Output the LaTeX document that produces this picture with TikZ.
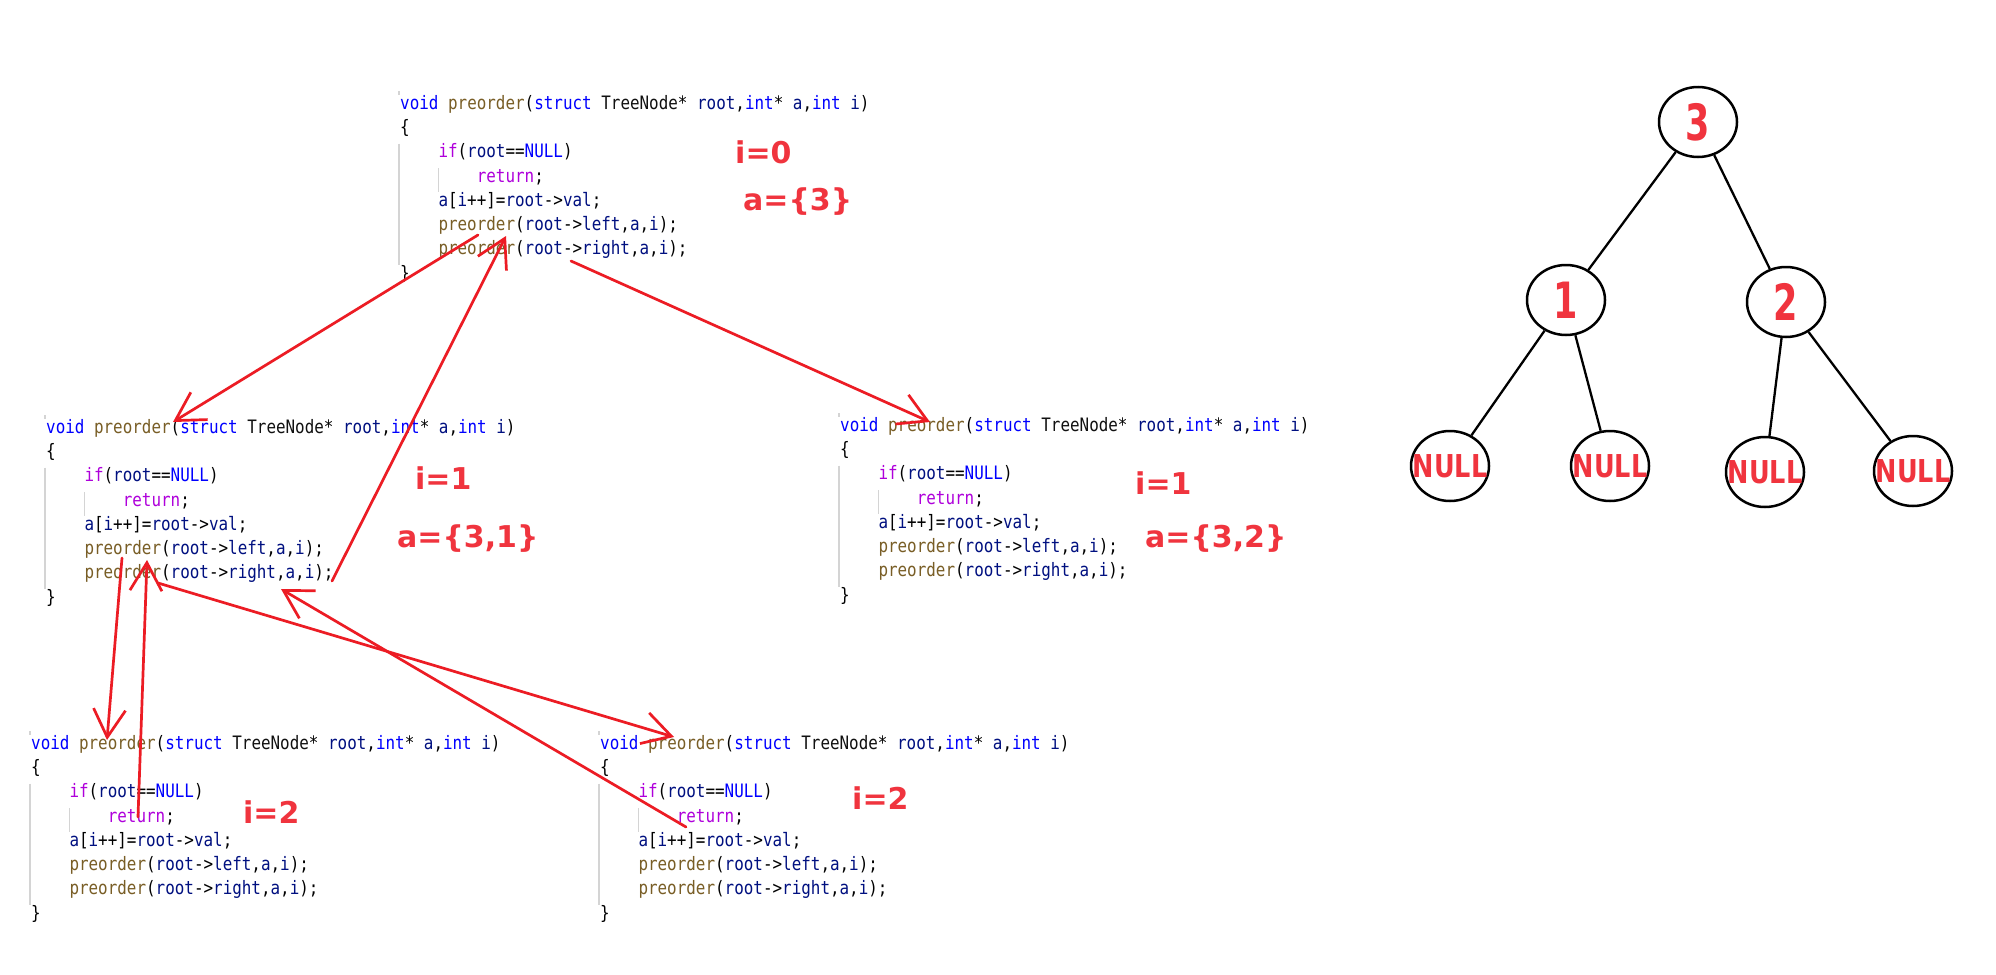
\documentclass[tikz,border=0pt]{standalone}
\usepackage{fontspec}
\usepackage{graphicx}
\usetikzlibrary{arrows.meta,shapes.geometric}
\newfontfamily\codefont{DejaVu Sans Mono}
\newfontfamily\lblfont{DejaVu Sans}
\definecolor{kwblue}{HTML}{0000FF}
\definecolor{fnbrown}{HTML}{795E26}
\definecolor{varnavy}{HTML}{001080}
\definecolor{ctrlpurple}{HTML}{AF00DB}
\definecolor{typeblack}{HTML}{111111}
\definecolor{guidegray}{HTML}{D4D4D4}
\definecolor{arrowred}{HTML}{EC1C24}
\definecolor{labelred}{HTML}{F0343E}
\newcommand\Kw[1]{\textcolor{kwblue}{#1}}
\newcommand\Fn[1]{\textcolor{fnbrown}{#1}}
\newcommand\Vr[1]{\textcolor{varnavy}{#1}}
\newcommand\Ct[1]{\textcolor{ctrlpurple}{#1}}
\newcommand\Ty[1]{\textcolor{typeblack}{#1}}
\newcommand\Sx[1]{\scalebox{0.86}[1]{#1}}
\newcommand\tdig[1]{\makebox[0pt]{\fontsize{50}{50}\selectfont\scalebox{0.7}[1]{#1}}}
\newcommand\tnull{\makebox[0pt]{\fontsize{31.5}{32}\selectfont\scalebox{0.81}[1]{NULL}}}
\tikzset{
  codeline/.style={anchor=mid west, inner sep=0pt, font=\codefont\fontsize{18.5}{22}\selectfont},
  guide/.style={draw=guidegray, line width=1.2pt},
  lbl/.style={anchor=base west, inner sep=0pt, text=labelred, font=\lblfont\bfseries\fontsize{30}{30}\selectfont},
  tnode/.style={ellipse, draw=black, line width=2.5pt, minimum width=78pt, minimum height=70pt, inner sep=0pt, text=labelred, font=\lblfont\bfseries},
  tedge/.style={draw=black, line width=2.3pt},
  redarrow/.style={draw=arrowred, line width=2.7pt, line cap=round, line join=round, -{Straight Barb[length=28pt,width=32pt]}}
}
\newcommand\codeblk[3]{%
\begin{scope}[shift={(#2,#3)}]
  \draw[guide] (-1,-16) -- (-1,-12);
  \draw[guide] (-1,36.5) -- (-1,158);
  \draw[guide] (38.3,61) -- (38.3,85);
  \node[codeline] (#1-1) at (0,0) {\Sx{\Kw{void} \Fn{preorder}(\Kw{struct} \Ty{TreeNode}* \Vr{root},\Kw{int}* \Vr{a},\Kw{int} \Vr{i})}};
  \node[codeline] (#1-2) at (0,24.3) {\Sx{\{}};
  \node[codeline] (#1-3) at (38.3,48.6) {\Sx{\Ct{if}(\Vr{root}==\Kw{NULL})}};
  \node[codeline] (#1-4) at (76.6,72.9) {\Sx{\Ct{return};}};
  \node[codeline] (#1-5) at (38.3,97.2) {\Sx{\Vr{a}[\Vr{i}++]=\Vr{root}->\Vr{val};}};
  \node[codeline] (#1-6) at (38.3,121.5) {\Sx{\Fn{preorder}(\Vr{root}->\Vr{left},\Vr{a},\Vr{i});}};
  \node[codeline] (#1-7) at (38.3,145.8) {\Sx{\Fn{preorder}(\Vr{root}->\Vr{right},\Vr{a},\Vr{i});}};
  \node[codeline] (#1-8) at (0,170.1) {\Sx{\}}};
\end{scope}}
\begin{document}
\begin{tikzpicture}[x=1pt,y=-1pt]
\useasboundingbox (0,0) rectangle (1996,974);
\fill[white] (0,0) rectangle (1996,974);
% code blocks
\codeblk{A}{400}{107}
\codeblk{B}{46}{431}
\codeblk{C}{840}{429}
\codeblk{D}{31}{747}
\codeblk{E}{600}{747}
% labels
\node[lbl] (lA1) at (735,163) {i=0};
\node[lbl] (lA2) at (743,210) {a=\{3\}};
\node[lbl] (lB1) at (415,489) {i=1};
\node[lbl] (lB2) at (397,547) {a=\{3,1\}};
\node[lbl] (lC1) at (1135,494) {i=1};
\node[lbl] (lC2) at (1145,547) {a=\{3,2\}};
\node[lbl] (lD1) at (243,823) {i=2};
\node[lbl] (lE1) at (852,809) {i=2};
% arrow end points
\coordinate (a1s) at (478,235); \coordinate (a1e) at (173,422);
\coordinate (a2s) at (332,581); \coordinate (a2e) at (506,236);
\coordinate (a7s) at (571,261); \coordinate (a7e) at (930,422);
\coordinate (a4s) at (122,558); \coordinate (a4e) at (107,740);
\coordinate (a5s) at (138,817); \coordinate (a5e) at (147,560);
\coordinate (a6s) at (158,583); \coordinate (a6e) at (674,737);
\coordinate (a3s) at (686,827); \coordinate (a3e) at (281,589);
\draw[redarrow] (a1s) -- (a1e);
\draw[redarrow] (a2s) -- (a2e);
\draw[redarrow] (a7s) -- (a7e);
\draw[redarrow] (a4s) -- (a4e);
\draw[redarrow] (a5s) -- (a5e);
\draw[redarrow] (a6s) -- (a6e);
\draw[redarrow] (a3s) -- (a3e);
% tree
\node[tnode] (n3) at (1698,122) {\tdig{3}};
\node[tnode] (n1) at (1566,300) {\tdig{1}};
\node[tnode] (n2) at (1786,302) {\tdig{2}};
\node[tnode] (l1) at (1450,466) {\tnull};
\node[tnode] (l2) at (1610,466) {\tnull};
\node[tnode] (l3) at (1765,472) {\tnull};
\node[tnode] (l4) at (1913,471) {\tnull};
\draw[tedge] (n3) -- (n1);
\draw[tedge] (n3) -- (n2);
\draw[tedge] (n1) -- (l1);
\draw[tedge] (n1) -- (l2);
\draw[tedge] (n2) -- (l3);
\draw[tedge] (n2) -- (l4);
\end{tikzpicture}
\end{document}
